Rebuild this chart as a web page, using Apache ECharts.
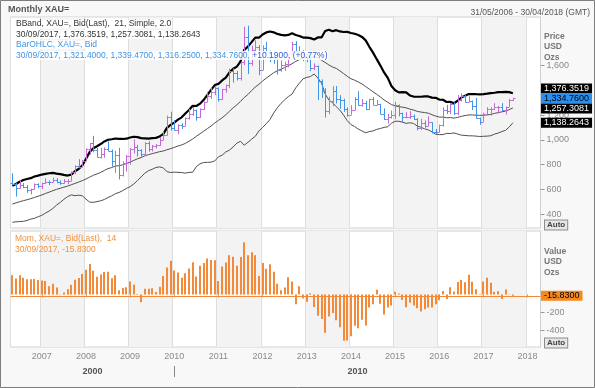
<!DOCTYPE html>
<html><head><meta charset="utf-8">
<script src="https://cdn.jsdelivr.net/npm/echarts@6/dist/echarts.min.js"></script>
<style>html,body{margin:0;padding:0;background:#fff}#c{width:595px;height:388px}</style>
</head><body><div id="c"></div>
<script>
// ---------- DATA ----------
const months = ('2006-05 2006-06 2006-07 2006-08 2006-09 2006-10 2006-11 2006-12 ' +
 '2007-01 2007-02 2007-03 2007-04 2007-05 2007-06 2007-07 2007-08 2007-09 2007-10 2007-11 2007-12 ' +
 '2008-01 2008-02 2008-03 2008-04 2008-05 2008-06 2008-07 2008-08 2008-09 2008-10 2008-11 2008-12 ' +
 '2009-01 2009-02 2009-03 2009-04 2009-05 2009-06 2009-07 2009-08 2009-09 2009-10 2009-11 2009-12 ' +
 '2010-01 2010-02 2010-03 2010-04 2010-05 2010-06 2010-07 2010-08 2010-09 2010-10 2010-11 2010-12 ' +
 '2011-01 2011-02 2011-03 2011-04 2011-05 2011-06 2011-07 2011-08 2011-09 2011-10 2011-11 2011-12 ' +
 '2012-01 2012-02 2012-03 2012-04 2012-05 2012-06 2012-07 2012-08 2012-09 2012-10 2012-11 2012-12 ' +
 '2013-01 2013-02 2013-03 2013-04 2013-05 2013-06 2013-07 2013-08 2013-09 2013-10 2013-11 2013-12 ' +
 '2014-01 2014-02 2014-03 2014-04 2014-05 2014-06 2014-07 2014-08 2014-09 2014-10 2014-11 2014-12 ' +
 '2015-01 2015-02 2015-03 2015-04 2015-05 2015-06 2015-07 2015-08 2015-09 2015-10 2015-11 2015-12 ' +
 '2016-01 2016-02 2016-03 2016-04 2016-05 2016-06 2016-07 2016-08 2016-09 2016-10 2016-11 2016-12 ' +
 '2017-01 2017-02 2017-03 2017-04 2017-05 2017-06 2017-07 2017-08 2017-09 2017-10 2017-11 2017-12 ' +
 '2018-01 2018-02 2018-03 2018-04').split(' ');

const openP = [654.5,643,613.5,632.5,623.5,599.3,603.8,646.7,
 632,650.5,664.2,661.8,677,659.1,650.5,665.5,672,742.8,789.5,783.5,
 833.8,923.3,971.5,916.2,863.1,885.3,928.3,913.9,832.9,880.8,718.3,814.5,
 869.8,927.3,942,916.5,883.3,978.8,926.4,954.3,955.5,1001,1039.5,1182,
 1096.5,1081,1116.1,1113.3,1179.3,1207.5,1244,1181,1248,1307,1357,1386,
 1421,1332,1410,1439,1556,1536,1500,1628,1828,1620,1722,1746,
 1565,1738,1710,1669,1664,1560,1604,1615,1692,1773,1719,1713,
 1676,1663,1579,1597,1472,1393,1234,1313,1396,1327,1323,1253,
 1202,1244,1326,1284,1296,1250,1327,1282,1287,1210,1171,1182,
 1199,1283,1213,1183,1183,1190,1172,1095,1135,1115,1142,1065,
 1061,1118,1238,1233,1293,1215,1322,1350.6,1309,1316,1277,1173,
 1146,1211,1249,1249,1268,1268,1242,1269,1321.4];
const highP = [730,652,675,652,636,607,648,650,
 655,690,673,696,693,674,684,684,745,795,845,838,
 932,975,1033,935,936,940,988,922,912,936,828,880,
 934,1005,960,925,981,989,959,966,1023,1070,1195,1227,
 1161,1126,1135,1181,1249,1265,1245,1254,1310,1388,1424,1432,
 1424,1411,1447,1576,1577,1556,1632,1913,1921,1759,1804,1764,
 1763,1791,1720,1677,1666,1641,1631,1692,1790,1796,1755,1723,
 1694,1683,1617,1600,1488,1417,1348,1434,1434,1361,1331,1262,
 1280,1345,1392,1331,1315,1332,1345,1323,1290,1255,1209,1238,
 1307,1285,1220,1224,1232,1205,1175,1170,1157,1191,1142,1088,
 1123,1263,1283,1298,1304,1362,1375,1366,1352,1318,1338,1180,
 1220,1264,1264,1296,1274,1296,1270,1331,1339.47];
const lowP = [636,543,608,610,573,560,600,610,
 603,646,635,660,651,638,648,642,670,723,772,780,
 833,881,900,860,849,856,908,786,735,681,705,744,
 800,890,866,865,868,905,907,931,951,1000,1036,1075,
 1075,1045,1088,1112,1164,1195,1155,1176,1242,1306,1330,1361,
 1308,1323,1381,1417,1462,1478,1478,1603,1532,1598,1664,1522,
 1563,1689,1627,1613,1527,1549,1557,1586,1690,1703,1673,1635,
 1626,1555,1562,1321,1338,1180,1207,1271,1294,1251,1226,1187,
 1202,1240,1277,1268,1240,1240,1282,1280,1206,1161,1131,1171,
 1167,1190,1142,1175,1170,1162,1077,1080,1098,1111,1052,1046,
 1060,1107,1208,1208,1200,1199,1310,1301,1303,1241,1171,1122,
 1146,1199,1195,1244,1214,1236,1205,1267,1316.25];
const closeP = [643,613.5,632.5,623.5,599.3,603.8,646.7,632,
 650.5,664.2,661.8,677,659.1,650.5,665.5,672,742.8,789.5,783.5,833.8,
 923.3,971.5,916.2,863.1,885.3,928.3,913.9,832.9,880.8,718.3,814.5,869.8,
 927.3,942,916.5,883.3,978.8,926.4,954.3,955.5,1001,1039.5,1182,1096.5,
 1081,1116.1,1113.3,1179.3,1207.5,1244,1181,1248,1307,1357,1386,1421,
 1332,1410,1439,1556,1536,1500,1628,1828,1620,1722,1746,1565,
 1738,1710,1669,1664,1560,1604,1615,1692,1773,1719,1713,1676,
 1663,1579,1597,1472,1393,1234,1313,1396,1327,1323,1253,1202,
 1244,1326,1284,1296,1250,1327,1282,1287,1210,1171,1182,1199,
 1283,1213,1183,1183,1190,1172,1095,1135,1115,1142,1065,1061,
 1118,1238,1233,1293,1215,1322,1350.6,1309,1316,1277,1173,1146,
 1211,1249,1249,1268,1268,1242,1269,1324.57,1334.76];

const bbUpper = [629.5,644.6,662.2,676.1,684.9,691.1,704.5,711.7,720.5,726.2,
 730.9,733.4,728.0,723.7,717.3,712.5,719.6,747.5,765.1,794.0,
 846.3,901.5,932.5,948.7,966.6,987.7,1001.1,1005.3,1011.4,1008.1,
 1007.4,1009.7,1019.2,1025.1,1022.1,1013.8,1012.6,1010.3,1014.6,1016.4,
 1028.0,1046.3,1097.0,1121.4,1139.3,1163.0,1182.0,1212.1,1241.4,1274.7,
 1273.3,1292.3,1323.1,1363.5,1403.7,1442.1,1451.4,1479.3,1501.9,1544.8,
 1574.0,1591.1,1632.5,1725.8,1752.0,1788.0,1824.8,1824.0,1849.9,1866.6,
 1874.3,1867.2,1854.5,1847.4,1843.4,1846.5,1860.0,1846.1,1837.7,1824.9,
 1824.0,1820.9,1810.1,1826.3,1826.3,1878.4,1887.7,1876.0,1884.8,1874.4,
 1870.1,1870.7,1862.1,1855.8,1845.9,1830.5,1802.7,1750.7,1704.0,1651.0,
 1599.2,1543.8,1500.3,1434.5,1400.4,1383.5,1385.8,1382.8,1358.5,1349.5,
 1347.8,1347.7,1351.0,1350.2,1341.2,1338.9,1325.4,1323.9,1305.4,1307.5,
 1295.8,1315.3,1341.7,1356.1,1370.0,1369.7,1368.3,1367.8,1368.9,1373.0,
 1377.2,1380.4,1384.9,1384.7,1386.8,1385.0,1376.3519];
const bbMiddle = [482.5,492.0,501.7,509.8,517.5,526.1,536.2,545.9,556.1,567.9,
 578.6,590.3,601.1,609.6,618.9,627.3,638.2,648.8,659.6,671.6,
 684.4,700.0,714.4,725.4,737.8,753.5,768.2,777.1,789.0,792.1,
 799.3,809.2,821.1,834.6,847.3,857.6,872.2,881.0,888.8,897.0,
 904.9,910.5,920.5,929.1,939.5,950.5,959.3,971.9,989.8,1007.0,
 1029.1,1049.7,1070.5,1091.0,1112.1,1136.1,1157.5,1178.0,1202.5,1231.1,
 1258.8,1282.5,1310.5,1341.3,1366.2,1396.7,1426.7,1448.2,1474.9,1498.8,
 1519.0,1542.0,1556.9,1571.0,1583.3,1597.9,1614.6,1633.0,1647.5,1658.8,
 1663.9,1665.9,1670.5,1663.1,1642.4,1624.0,1604.5,1587.9,1576.5,1556.8,
 1535.0,1512.8,1492.8,1481.6,1466.4,1451.2,1430.1,1408.9,1388.1,1367.8,
 1345.6,1322.2,1303.3,1284.3,1275.3,1266.8,1264.3,1258.1,1248.3,1241.0,
 1230.1,1224.5,1220.3,1215.5,1203.0,1192.4,1184.0,1183.4,1178.9,1179.4,
 1176.0,1181.3,1189.9,1196.0,1201.5,1201.2,1199.3,1197.6,1198.9,1201.7,
 1205.4,1213.6,1220.0,1226.0,1232.0,1244.3,1257.3081];
const bbLower = [335.5,339.4,341.2,343.5,350.1,361.1,367.9,380.1,391.7,409.6,
 426.3,447.2,474.2,495.5,520.5,542.1,556.8,550.1,554.1,549.2,
 522.5,498.5,496.3,502.1,509.0,519.3,535.3,548.9,566.6,576.1,
 591.2,608.7,623.0,644.1,672.5,701.4,731.8,751.7,763.0,777.6,
 781.8,774.7,744.0,736.8,739.7,738.0,736.6,731.7,738.2,739.3,
 784.9,807.1,817.9,818.5,820.5,830.1,863.6,876.7,903.1,917.4,
 943.6,973.9,988.5,956.8,980.4,1005.4,1028.6,1072.4,1099.9,1131.0,
 1163.7,1216.8,1259.3,1294.6,1323.2,1349.3,1369.2,1419.9,1457.3,1492.7,
 1503.8,1510.9,1530.9,1499.9,1458.5,1369.6,1321.3,1299.8,1268.2,1239.2,
 1199.9,1154.9,1123.5,1107.4,1086.9,1071.9,1057.5,1067.1,1072.2,1084.6,
 1092.0,1100.6,1106.3,1134.1,1150.2,1150.1,1142.8,1133.4,1138.1,1132.5,
 1112.4,1101.3,1089.6,1080.8,1064.8,1045.9,1042.6,1042.9,1052.4,1051.3,
 1056.2,1047.3,1038.1,1035.9,1033.0,1032.7,1030.3,1027.4,1028.9,1030.4,
 1033.6,1046.8,1055.1,1067.3,1077.2,1103.6,1138.2643];

const momentum = [214,178,216,186,170,171,173,162,
 155,151,93,121,77,-4,23,59,110,166,184,230,
 277,340,266,199,224,251,255,182,215,46,72,80,
 144,108,-7,-88,63,63,69,27,87,207,301,378,
 267,246,186,237,291,361,202,322,353,402,385,382,
 150,314,358,440,423,321,421,584,439,474,439,208,
 352,289,337,254,121,48,79,192,145,-109,93,-46,
 -83,14,-141,-238,-276,-430,-247,-208,-288,-369,-520,-517,
 -469,-350,-379,-283,-347,-145,-111,53,-103,-225,-145,-124,
 30,11,-61,-143,-94,-124,-155,-192,-167,-145,-145,-110,
 -64,39,-50,80,32,139,161,137,221,142,58,4,
 146,188,131,30,35,-51,54,2.6,-15.83];

const priceTicks = [400,600,800,1000,1200,1400,1600];
const momTicks = [-400,-200];
const decades = ['2000','2010'];

// ---------- CHART ----------
const FONT = '"Liberation Sans", Arial, sans-serif';
const UP = '#c46ad6', DOWN = '#3f95e8', ORANGE = '#f28a3a';
const last = closeP.length - 1;
const yearStart = (idx, val) => idx === 0 || String(val).slice(5) === '01';
const isJan = (idx, val) => String(val).slice(5) === '01';
const fmt4 = v => v.toLocaleString('en-US', {minimumFractionDigits:4, maximumFractionDigits:4});

const chart = echarts.init(document.getElementById('c'), null, {renderer:'canvas', width:595, height:388});

function renderOHLC(params, api) {
  const i = api.value(0), o = api.value(1), h = api.value(2), l = api.value(3), c = api.value(4);
  const pH = api.coord([i, h]), pL = api.coord([i, l]), pO = api.coord([i, o]), pC = api.coord([i, c]);
  const x = Math.round(pH[0]) + 0.5;
  const yo = Math.round(pO[1]) + 0.5, yc = Math.round(pC[1]) + 0.5;
  const style = {stroke: c >= o ? UP : DOWN, lineWidth: 1};
  return {type:'group', children:[
    {type:'line', shape:{x1:x, y1:pH[1], x2:x, y2:pL[1]}, style},
    {type:'line', shape:{x1:x-2, y1:yo, x2:x, y2:yo}, style},
    {type:'line', shape:{x1:x, y1:yc, x2:x+2, y2:yc}, style}
  ]};
}
function renderMom(params, api) {
  const i = api.value(0), v = api.value(1);
  const p0 = api.coord([i, 0]), p1 = api.coord([i, v]);
  const x = Math.round(p0[0]) - 1;
  return {type:'rect', shape:{x:x, y:Math.min(p0[1], p1[1]), width:2, height:Math.abs(p1[1]-p0[1])},
          style:{fill:ORANGE}};
}

const xCommon = {
  type:'category', data:months, boundaryGap:true,
  axisLine:{show:false},
  splitLine:{show:true, interval:yearStart, lineStyle:{color:'#dedede', width:1}},
  splitArea:{show:true, interval:yearStart, areaStyle:{color:['rgba(255,255,255,0)','#f3f3f3']}}
};

const option = {
  animation:false,
  backgroundColor:'#f8f8f8',
  grid:[
    {left:10.5, right:54.5, top:17, height:211, show:true, backgroundColor:'#ffffff', borderColor:'#d2d2d2', borderWidth:1},
    {left:10.5, right:54.5, top:231, height:116, show:true, backgroundColor:'#ffffff', borderColor:'#d2d2d2', borderWidth:1}
  ],
  xAxis:[
    Object.assign({}, xCommon, {gridIndex:0, axisTick:{show:false}, axisLabel:{show:false}}),
    Object.assign({}, xCommon, {gridIndex:1,
      axisTick:{show:true, interval:isJan, alignWithLabel:true, length:3, lineStyle:{color:'#aaaaaa'}},
      axisLabel:{show:true, interval:isJan, formatter:v => v.slice(0,4), color:'#8a8a8a', fontSize:9, fontFamily:FONT, margin:5}})
  ],
  yAxis:[
    {type:'value', gridIndex:0, position:'right', min:289.5, max:1991, splitLine:{show:false},
     axisLine:{show:true, lineStyle:{color:'#cfcfcf'}},
     axisTick:{show:true, customValues:priceTicks, length:4, lineStyle:{color:'#999999'}},
     axisLabel:{customValues:priceTicks, formatter:v => v.toLocaleString('en-US'), color:'#8a8a8a', fontSize:9, fontFamily:FONT, margin:6}},
    {type:'value', gridIndex:1, position:'right', min:-589, max:711, splitLine:{show:false},
     axisLine:{show:true, lineStyle:{color:'#cfcfcf'}},
     axisTick:{show:true, customValues:momTicks, length:4, lineStyle:{color:'#999999'}},
     axisLabel:{customValues:momTicks, formatter:v => v.toLocaleString('en-US'), color:'#8a8a8a', fontSize:9, fontFamily:FONT, margin:6}}
  ],
  series:[
    {type:'line', name:'BB mid', xAxisIndex:0, yAxisIndex:0, data:bbMiddle, showSymbol:false, silent:true,
     lineStyle:{color:'#505050', width:1}, z:2},
    {type:'line', name:'BB low', xAxisIndex:0, yAxisIndex:0, data:bbLower, showSymbol:false, silent:true,
     lineStyle:{color:'#505050', width:1}, z:2},
    {type:'line', name:'BB up', xAxisIndex:0, yAxisIndex:0, data:bbUpper, showSymbol:false, silent:true,
     lineStyle:{color:'#000000', width:2.2}, z:3},
    {type:'custom', name:'OHLC', xAxisIndex:0, yAxisIndex:0, z:4,
     data:closeP.map((c, i) => [i, openP[i], highP[i], lowP[i], c]),
     encode:{x:0, y:[1,2,3,4]}, renderItem:renderOHLC},
    {type:'custom', name:'Mom', xAxisIndex:1, yAxisIndex:1, z:4,
     data:momentum.map((v, i) => [i, v]),
     encode:{x:0, y:1}, renderItem:renderMom,
     markLine:{symbol:'none', silent:true, label:{show:false},
       lineStyle:{color:ORANGE, width:1, type:'solid'}, data:[{yAxis:momentum[last]}]}}
  ]
};
chart.setOption(option);

// ---------- TEXT / LABELS ----------
const g = [];
const txt = (text, x, y, o) => g.push({type:'text', z:100, silent:true,
  style:Object.assign({text, x, y, verticalAlign:'middle', font:'9px ' + FONT, fill:'#333'}, o || {})});
const WB = {backgroundColor:'rgba(255,255,255,0.85)', padding:[0,1]};

// frame + header
g.push({type:'rect', z:99, silent:true, shape:{x:0.5, y:0.5, width:594, height:387}, style:{fill:'none', stroke:'#7d7d7d', lineWidth:1}});
txt('Monthly XAU=', 8, 9.5, {font:'bold 9px ' + FONT, fill:'#555'});
txt('31/05/2006 - 30/04/2018 (GMT)', 590, 12.5, {align:'right', font:'8.5px ' + FONT, fill:'#555'});

// legends upper
const chg = closeP[last] - closeP[last-1];
const pct = chg / closeP[last-1] * 100;
txt('BBand, XAU=, Bid(Last),  21, Simple, 2.0', 15, 24, Object.assign({font:'8.5px ' + FONT, fill:'#333'}, WB));
txt('30/09/2017, ' + [bbUpper[last], bbMiddle[last], bbLower[last]].map(fmt4).join(', '), 15, 34.5,
    Object.assign({font:'8.5px ' + FONT, fill:'#333'}, WB));
txt('BarOHLC, XAU=, Bid', 15, 45, Object.assign({font:'8.5px ' + FONT, fill:'#3f95e8'}, WB));
g.push({type:'text', z:100, silent:true, style:Object.assign({
  text:'{a|30/09/2017, ' + [openP[last], highP[last], lowP[last], closeP[last]].map(fmt4).join(', ') + ', }' +
       '{b|+' + fmt4(chg) + ', (+' + pct.toFixed(2) + '%)}',
  x:15, y:55.5, verticalAlign:'middle', font:'8.5px ' + FONT,
  rich:{a:{fill:'#3f95e8', font:'8.5px ' + FONT}, b:{fill:'#2f5fcf', font:'8.5px ' + FONT}}}, WB)});

// legends lower
txt('Mom, XAU=, Bid(Last),  14', 15, 239, {font:'8.5px ' + FONT, fill:'#f0913d'});
txt('30/09/2017, ' + fmt4(momentum[last]), 15, 249.5, {font:'8.5px ' + FONT, fill:'#f0913d'});

// axis headers
['Price', 'USD', 'Ozs'].forEach((t, k) => txt(t, 544, 36.5 + k * 10.5, {font:'bold 8.5px ' + FONT, fill:'#777'}));
['Value', 'USD', 'Ozs'].forEach((t, k) => txt(t, 544, 251.5 + k * 10.5, {font:'bold 8.5px ' + FONT, fill:'#777'}));

// last value boxes
const boxes = [
  {v:bbUpper[last], bg:'#000', fg:'#fff'},
  {v:closeP[last], bg:'#2a8ff0', fg:'#000', fixed:true},
  {v:bbMiddle[last], bg:'#000', fg:'#fff'},
  {v:bbLower[last], bg:'#000', fg:'#fff'}
];
boxes.forEach(b => b.y = chart.convertToPixel({yAxisIndex:0}, b.v));
boxes.sort((a, b) => a.y - b.y);
const fi = boxes.findIndex(b => b.fixed);
for (let k = fi - 1; k >= 0; k--) boxes[k].y = Math.min(boxes[k].y, boxes[k+1].y - 10);
for (let k = fi + 1; k < boxes.length; k++) boxes[k].y = Math.max(boxes[k].y, boxes[k-1].y + 10);
boxes.forEach(b => txt(fmt4(b.v), 541, b.y, {font:'9px ' + FONT, fill:b.fg, backgroundColor:b.bg, padding:[1,3,0,3]}));
const ym = chart.convertToPixel({yAxisIndex:1}, momentum[last]);
txt(fmt4(momentum[last]), 541, ym, {font:'9px ' + FONT, fill:'#000', backgroundColor:'#f5891f', padding:[1,3,0,3]});

// Auto buttons
[225, 343].forEach(y => txt('Auto', 545, y, {font:'bold 8px ' + FONT, fill:'#444',
  backgroundColor:'#e6e6e6', borderColor:'#8c8c8c', borderWidth:1, padding:[1,2,0,2]}));

// decade labels
const xL = 10.5, xR = 540.5;
const x2010 = chart.convertToPixel({xAxisIndex:1}, '2010-01');
txt(decades[0], (xL + x2010) / 2, 372, {align:'center', font:'bold 9px ' + FONT, fill:'#555'});
txt(decades[1], (x2010 + xR) / 2, 372, {align:'center', font:'bold 9px ' + FONT, fill:'#555'});
g.push({type:'line', z:100, silent:true, shape:{x1:Math.round(x2010)+0.5, y1:366, x2:Math.round(x2010)+0.5, y2:377},
  style:{stroke:'#888', lineWidth:1}});

chart.setOption({graphic:g});
</script>
</body></html>
